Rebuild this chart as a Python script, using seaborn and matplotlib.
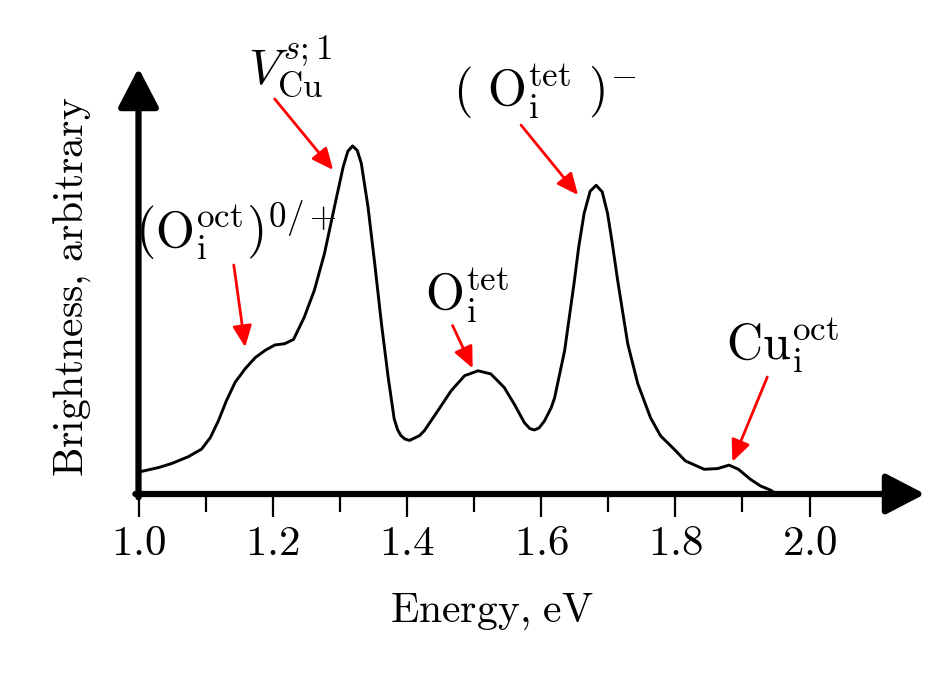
import pandas as pd
import matplotlib
matplotlib.use("Agg")
import matplotlib.pyplot as plt
import seaborn as sns

# Spectrum
energy = [1.000, 1.030, 1.050, 1.074, 1.094, 1.107, 1.119, 1.131, 1.144, 1.159,
          1.174, 1.189, 1.203, 1.218, 1.231, 1.247, 1.262, 1.277, 1.292, 1.305,
          1.312, 1.319, 1.326, 1.332, 1.342, 1.352, 1.362, 1.372, 1.381, 1.386,
          1.391, 1.397, 1.404, 1.419, 1.426, 1.446, 1.466, 1.486, 1.506, 1.525,
          1.545, 1.560, 1.575, 1.583, 1.590, 1.597, 1.605, 1.615, 1.620, 1.635,
          1.649, 1.656, 1.664, 1.673, 1.682, 1.691, 1.699, 1.706, 1.714, 1.729,
          1.744, 1.763, 1.778, 1.798, 1.815, 1.843, 1.863, 1.880, 1.894, 1.912,
          1.927, 1.942, 1.950]
brightness = [0.063, 0.076, 0.088, 0.107, 0.129, 0.162, 0.210, 0.268, 0.321, 0.360,
              0.392, 0.413, 0.428, 0.432, 0.444, 0.508, 0.585, 0.690, 0.825, 0.940,
              0.985, 1.000, 0.987, 0.950, 0.825, 0.662, 0.490, 0.336, 0.216, 0.185,
              0.168, 0.158, 0.154, 0.168, 0.182, 0.239, 0.297, 0.340, 0.354, 0.345,
              0.306, 0.258, 0.205, 0.188, 0.184, 0.190, 0.210, 0.248, 0.276, 0.412,
              0.605, 0.710, 0.806, 0.870, 0.887, 0.868, 0.806, 0.720, 0.614, 0.432,
              0.317, 0.219, 0.167, 0.129, 0.095, 0.071, 0.073, 0.083, 0.071, 0.042,
              0.023, 0.011, 0.000]

major_ticks = [1.0, 1.2, 1.4, 1.6, 1.8, 2.0]
minor_ticks = [1.1, 1.3, 1.5, 1.7, 1.9]
tick_labels = ["1.0", "1.2", "1.4", "1.6", "1.8", "2.0"]

peak_labels = [r"$V_{\mathrm{Cu}}^{s{;}1}$",
               r"$\left(\mathrm{O}_{\mathrm{i}}^{\mathrm{oct}}\right)^{0/+}$",
               r"$\mathrm{O}_{\mathrm{i}}^{\mathrm{tet}}$",
               r"$(\ \mathrm{O}_{\mathrm{i}}^{\mathrm{tet}}\ )^{-}$",
               r"$\mathrm{Cu}_{\mathrm{i}}^{\mathrm{oct}}$"]
label_pos = [(1.226, 1.230), (1.145, 0.756), (1.490, 0.569), (1.606, 1.155), (1.959, 0.425)]
arrow_from = [(1.203, 1.135), (1.142, 0.658), (1.468, 0.484), (1.570, 1.060), (1.937, 0.336)]
arrow_to = [(1.290, 0.931), (1.159, 0.422), (1.498, 0.361), (1.655, 0.859), (1.885, 0.093)]

df = pd.DataFrame({"energy": energy, "brightness": brightness})

sns.set_style("white")
plt.rcParams["mathtext.fontset"] = "cm"
plt.rcParams["font.family"] = ["DejaVu Serif"]
plt.rcParams["text.color"] = "black"
plt.rcParams["axes.labelcolor"] = "black"
plt.rcParams["xtick.color"] = "black"

fig = plt.figure(figsize=(9.47, 6.74), dpi=100)
ax = fig.add_axes([138.5 / 947, 180 / 674, 786.5 / 947, 426 / 674])

sns.lineplot(data=df, x="energy", y="brightness", color="black", lw=2.1,
             solid_joinstyle="round", ax=ax)

ax.set_xlim(1.0, 2.172)
ax.set_ylim(0, 1.224)
for s in ax.spines.values():
    s.set_visible(False)

# axes drawn as arrows
head = "-|>,head_length=1.0,head_width=0.52"
ax.annotate("", xy=(1, 0), xytext=(-0.004, 0), xycoords="axes fraction",
            arrowprops=dict(arrowstyle=head, lw=4.5, color="black",
                            mutation_scale=24, shrinkA=0, shrinkB=0))
ax.annotate("", xy=(0, 1), xytext=(0, -0.008), xycoords="axes fraction",
            arrowprops=dict(arrowstyle=head, lw=4.5, color="black",
                            mutation_scale=24, shrinkA=0, shrinkB=0))

ax.set_xticks(major_ticks)
ax.set_xticks(minor_ticks, minor=True)
ax.set_xticklabels(["$" + t + "$" for t in tick_labels], fontsize=31)
ax.set_yticks([])
ax.tick_params(axis="x", which="major", direction="out", length=16.5, width=1.6,
               pad=4, bottom=True, color="black")
ax.tick_params(axis="x", which="minor", direction="out", length=13, width=1.6,
               bottom=True, color="black")

ax.set_xlabel(r"$\mathrm{Energy{,}\ eV}$", fontsize=30, va="top")
ax.xaxis.set_label_coords(0.4497, -0.225)
ax.set_ylabel(r"$\mathrm{Brightness{,}\ arbitrary}$", fontsize=30, va="bottom")
ax.yaxis.set_label_coords(-0.058, 0.486)

for lab, pos, a, b in zip(peak_labels, label_pos, arrow_from, arrow_to):
    ax.text(pos[0], pos[1], lab, fontsize=36, ha="center", va="center")
    ax.annotate("", xy=b, xytext=a,
                arrowprops=dict(arrowstyle="-|>,head_length=1.0,head_width=0.45",
                                color="red", lw=2, mutation_scale=13,
                                shrinkA=0, shrinkB=0))

fig.savefig("out.png", dpi=100)
